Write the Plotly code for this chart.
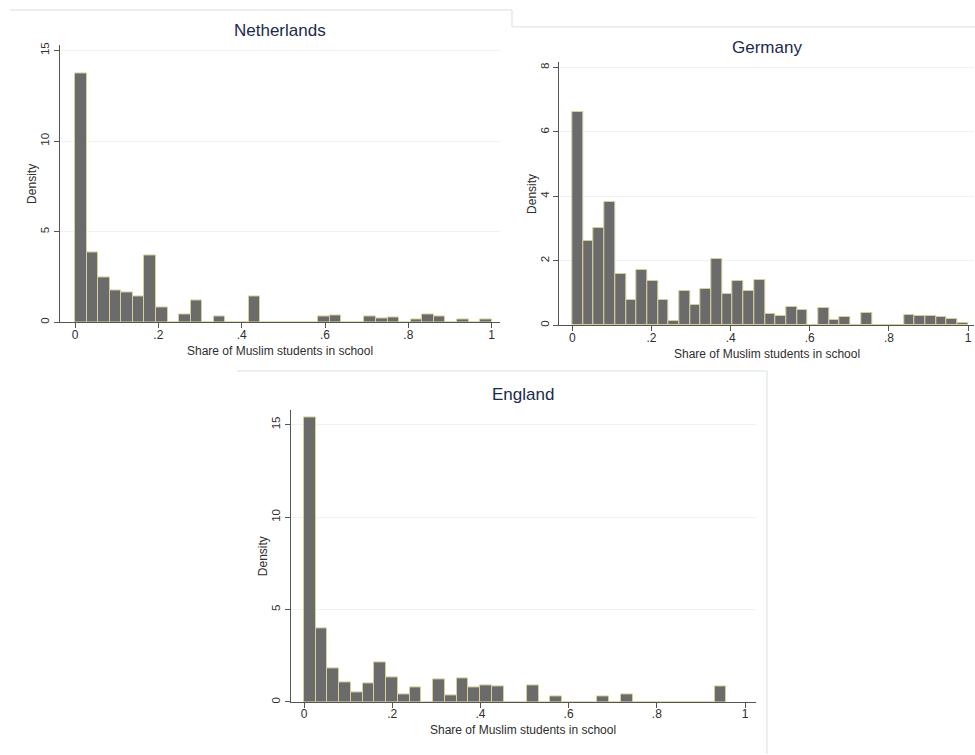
import plotly.graph_objects as go

# ---------------- data ----------------
x_tick_vals = [0, 0.2, 0.4, 0.6, 0.8, 1.0]
x_tick_text = ["0", ".2", ".4", ".6", ".8", "1"]
x_title = "Share of Muslim students in school"
y_title = "Density"

nl_title = "Netherlands"
nl_range = (0.0, 1.0)
nl_density = [13.75, 3.86, 2.47, 1.73, 1.65, 1.44, 3.68, 0.83, 0, 0.41, 1.2, 0,
              0.3, 0, 0, 1.43, 0, 0, 0, 0, 0, 0.31, 0.4, 0, 0, 0.31, 0.22, 0.28,
              0, 0.15, 0.42, 0.31, 0, 0.15, 0, 0.18]
nl_y_ticks = [0, 5, 10, 15]

de_title = "Germany"
de_range = (0.0, 1.0)
de_density = [6.63, 2.63, 3.03, 3.83, 1.6, 0.79, 1.71, 1.36, 0.79, 0.12, 1.05, 0.64,
              1.14, 2.06, 0.98, 1.36, 1.05, 1.4, 0.36, 0.29, 0.58, 0.48, 0, 0.54,
              0.18, 0.26, 0, 0.38, 0, 0, 0, 0.32, 0.28, 0.28, 0.26, 0.21, 0.06]
de_y_ticks = [0, 2, 4, 6, 8]

en_title = "England"
en_range = (0.0, 0.958)
en_density = [15.4, 4.0, 1.79, 1.04, 0.54, 0.99, 2.12, 1.33, 0.4, 0.79, 0, 1.23,
              0.33, 1.29, 0.78, 0.9, 0.82, 0, 0, 0.88, 0, 0.28, 0, 0, 0, 0.32, 0,
              0.42, 0, 0, 0, 0, 0, 0, 0, 0.83]
en_y_ticks = [0, 5, 10, 15]

# ---------------- styling ----------------
W, H = 975, 755
FONT = "Liberation Sans, Arial, sans-serif"
BAR_FILL = "#6b6b6b"
BAR_EDGE = "#d6cf9a"
TITLE_COLOR = "#1c2a4e"
TEXT_COLOR = "#2e2e2e"
GRID = "#edf3f3"
AXIS = "#555555"
BORDER = "#e3ebed"

# panel geometry in pixels: (left, right, top, bottom), x-range, y-range
panels = [
    dict(title=nl_title, dens=nl_density, rng=nl_range, yt=nl_y_ticks,
         px=(60, 500, 42.7, 321), xr=(-0.036, 1.02), yr=(0, 15.27),
         title_y=28),
    dict(title=de_title, dens=de_density, rng=de_range, yt=de_y_ticks,
         px=(559.3, 974, 59.3, 324), xr=(-0.033, 1.015), yr=(0, 8.17),
         title_y=45),
    dict(title=en_title, dens=en_density, rng=en_range, yt=en_y_ticks,
         px=(291, 755.6, 409.6, 702.7), xr=(-0.0295, 1.024), yr=(0, 15.77),
         title_y=394),
]

fig = go.Figure()
annotations = []
layout = {}

for i, p in enumerate(panels, start=1):
    n = len(p["dens"])
    lo, hi = p["rng"]
    w = (hi - lo) / n
    centers = [lo + (k + 0.5) * w for k in range(n)]
    xa = "x" if i == 1 else f"x{i}"
    ya = "y" if i == 1 else f"y{i}"
    fig.add_trace(go.Bar(
        x=centers, y=p["dens"], width=w,
        marker=dict(color=BAR_FILL, line=dict(color=BAR_EDGE, width=1)),
        xaxis=xa, yaxis=ya, showlegend=False, hoverinfo="x+y",
    ))
    l, r, t, b = p["px"]
    xdom = [l / W, r / W]
    ydom = [1 - b / H, 1 - t / H]
    layout["xaxis" if i == 1 else f"xaxis{i}"] = dict(
        domain=xdom, anchor=ya, range=list(p["xr"]),
        tickvals=x_tick_vals, ticktext=x_tick_text,
        ticks="outside", ticklen=5, tickcolor=AXIS, tickwidth=1,
        ticklabelstandoff=-4,
        showline=True, linecolor=AXIS, linewidth=1,
        showgrid=False, zeroline=False,
        tickfont=dict(family=FONT, size=12, color=TEXT_COLOR),
    )
    layout["yaxis" if i == 1 else f"yaxis{i}"] = dict(
        domain=ydom, anchor=xa, range=list(p["yr"]),
        tickvals=p["yt"], tickangle=-90,
        ticks="outside", ticklen=5, tickcolor=AXIS, tickwidth=1,
        showline=True, linecolor=AXIS, linewidth=1,
        showgrid=True, gridcolor=GRID, gridwidth=1, zeroline=False,
        tickfont=dict(family=FONT, size=11.5, color=TEXT_COLOR),
    )
    cx = (l + r) / 2 / W
    annotations.append(dict(
        text=p["title"], x=cx, y=1 - p["title_y"] / H, xref="paper", yref="paper",
        xanchor="center", yanchor="middle", showarrow=False,
        font=dict(family=FONT, size=17, color=TITLE_COLOR)))
    annotations.append(dict(
        text=x_title, x=cx, y=1 - (b + 28.5) / H, xref="paper", yref="paper",
        xanchor="center", yanchor="middle", showarrow=False,
        font=dict(family=FONT, size=12, color=TEXT_COLOR)))
    annotations.append(dict(
        text=y_title, x=(l - 28) / W, y=1 - (t + b) / 2 / H, xref="paper", yref="paper",
        xanchor="center", yanchor="middle", showarrow=False, textangle=-90,
        font=dict(family=FONT, size=12, color=TEXT_COLOR)))

# faint panel borders (composite screenshot look)
border_segments = [((10, 7), (512, 7)), ((512, 7), (512, 24)), ((512, 24), (975, 24)),
                   ((237, 370), (767, 370)), ((767, 370), (767, 755))]
shapes = [dict(type="line", xref="paper", yref="paper",
               x0=a[0] / W, y0=1 - a[1] / H, x1=c[0] / W, y1=1 - c[1] / H,
               line=dict(color=BORDER, width=1.5))
          for a, c in border_segments]

fig.update_layout(
    width=W, height=H, margin=dict(l=0, r=0, t=0, b=0),
    paper_bgcolor="white", plot_bgcolor="white",
    bargap=0, annotations=annotations, shapes=shapes,
    font=dict(family=FONT), **layout,
)

fig.write_html(
    "out.html",
    config={"displayModeBar": False},
    post_script="document.body.style.margin='0';document.body.style.padding='0';"
                "document.body.style.overflow='hidden';",
)
